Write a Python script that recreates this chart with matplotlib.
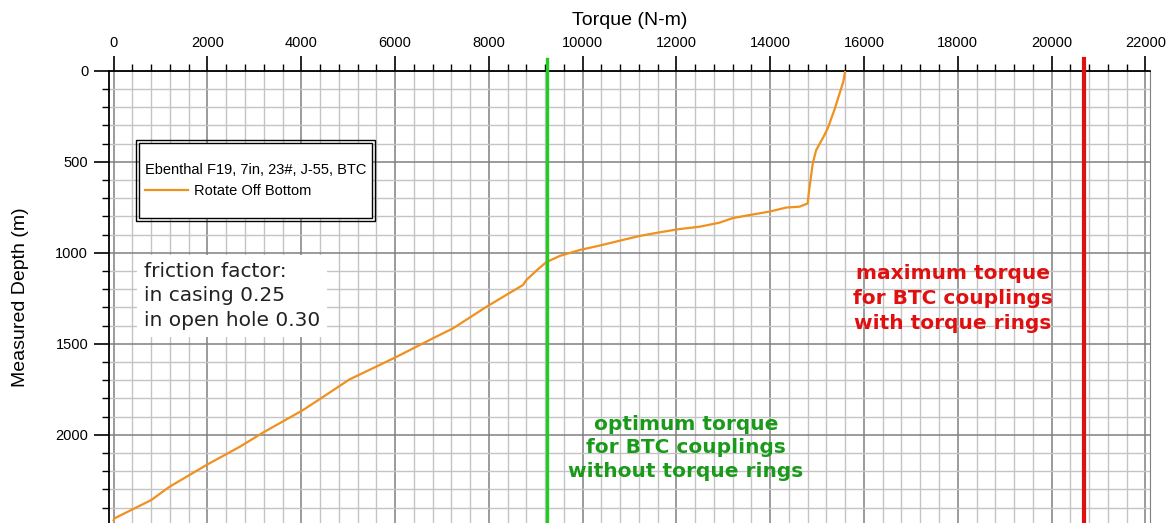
import numpy as np
import matplotlib
matplotlib.use("Agg")
import matplotlib.pyplot as plt
from matplotlib.ticker import MultipleLocator
from matplotlib.patches import Rectangle

# ---- data ----
torque_nm = [15600, 15560, 15370, 15230, 15140, 14980, 14910, 14830, 14800,
             14630, 14340, 13990, 13560, 13200, 12920, 12500, 12070, 11640,
             11215, 10790, 10360, 9940, 9510, 9225, 9050, 8800, 8730, 7950,
             7240, 6810, 6010, 5030, 4390, 4040, 3180, 2690, 1980, 1190, 800,
             20, 0]
depth_m = [0, 60, 215, 315, 362, 437, 507, 657, 729,
           747, 752, 774, 793, 810, 835, 857, 870, 888,
           908, 934, 961, 985, 1018, 1052, 1090, 1150, 1177, 1297,
           1415, 1470, 1575, 1696, 1805, 1864, 1989, 2066, 2166, 2286, 2359,
           2459, 2470]

OPTIMUM_TORQUE = 9250    # BTC ohne Torque Rings
MAX_TORQUE = 20700       # BTC mit Torque Rings

LEGEND_TITLE = "Ebenthal F19, 7in, 23#, J-55, BTC"
SERIES_NAME = "Rotate Off Bottom"
FRICTION_TXT = "friction factor:\nin casing 0.25\nin open hole 0.30"
OPT_TXT = "optimum torque\nfor BTC couplings\nwithout torque rings"
MAX_TXT = "maximum torque\nfor BTC couplings\nwith torque rings"

W, H = 1176, 523
plt.rcParams["font.family"] = ["Liberation Sans", "DejaVu Sans"]

fig = plt.figure(figsize=(W / 100, H / 100), dpi=100)
ax = fig.add_axes([109 / W, 0, (1150 - 109) / W, (H - 70.7) / H])

ax.plot(torque_nm, depth_m, color="#f0901e", lw=1.6, label=SERIES_NAME, zorder=4)
ax.axvline(OPTIMUM_TORQUE, ymin=0, ymax=1.025, color="#22cc22", lw=2.4,
           clip_on=False, zorder=5)
ax.axvline(MAX_TORQUE, ymin=0, ymax=1.025, color="#dd1111", lw=3.0,
           clip_on=False, zorder=5)

ax.set_xlim(-100, 22100)
ax.set_ylim(2485, 0)

ax.xaxis.set_major_locator(MultipleLocator(2000))
ax.xaxis.set_minor_locator(MultipleLocator(400))
ax.yaxis.set_major_locator(MultipleLocator(500))
ax.yaxis.set_minor_locator(MultipleLocator(100))
ax.xaxis.tick_top()
ax.xaxis.set_label_position("top")

ax.grid(which="minor", color="#c4c4c4", lw=1.0)
ax.grid(which="major", color="#808080", lw=1.1)
ax.set_axisbelow(True)

ax.tick_params(which="major", direction="out", length=11, width=1.2,
               labelsize=10.5, pad=4)
ax.tick_params(which="minor", direction="out", length=5, width=1.0)
ax.tick_params(axis="x", which="both", top=True, bottom=False)
ax.tick_params(axis="y", which="both", left=True, right=False)

for s in ["left", "top"]:
    ax.spines[s].set_linewidth(1.3)
ax.spines["right"].set_color("#808080")
ax.spines["bottom"].set_visible(False)

ax.set_xlabel("Torque (N-m)", fontsize=14, labelpad=8)
ax.set_ylabel("Measured Depth (m)", fontsize=14, labelpad=19)

# Textboxen
ax.text(650, 1051, FRICTION_TXT, fontsize=14.5, family="DejaVu Sans",
        color="#222222", va="top", ha="left", linespacing=1.36, zorder=6,
        bbox=dict(facecolor="white", edgecolor="none", pad=5))
ax.text(12200, 1889, OPT_TXT, fontsize=14.5, family="DejaVu Sans",
        fontweight="bold", color="#1a9a1a", ha="center", va="top",
        linespacing=1.31, zorder=6)
ax.text(17900, 1063, MAX_TXT, fontsize=14.5, family="DejaVu Sans",
        fontweight="bold", color="#e01010", ha="center", va="top",
        linespacing=1.38, zorder=6)

# Legende mit Doppelrahmen (Rahmen selbst gezeichnet)
leg = ax.legend(title=LEGEND_TITLE, loc="upper left",
                bbox_to_anchor=(145 / W, 1 - 163 / H),
                bbox_transform=fig.transFigure, fontsize=10.5,
                title_fontsize=10.5, handlelength=2.95, handletextpad=0.4,
                labelspacing=0.5, borderpad=0, borderaxespad=0,
                alignment="left", frameon=False)
leg.set_zorder(8)

fig.canvas.draw()
bb = leg.get_window_extent()
hx, vy = 6, 20
inner = Rectangle((bb.x0 - hx, bb.y0 - vy), bb.width + 2 * hx,
                  bb.height + 2 * vy, transform=None, facecolor="white",
                  edgecolor="black", lw=1.0, zorder=7)
outer = Rectangle((bb.x0 - hx - 3, bb.y0 - vy - 3), bb.width + 2 * hx + 6,
                  bb.height + 2 * vy + 6, transform=None, fill=False,
                  edgecolor="black", lw=1.0, zorder=7)
ax.add_patch(inner)
ax.add_patch(outer)

fig.savefig("out.png", dpi=100)
